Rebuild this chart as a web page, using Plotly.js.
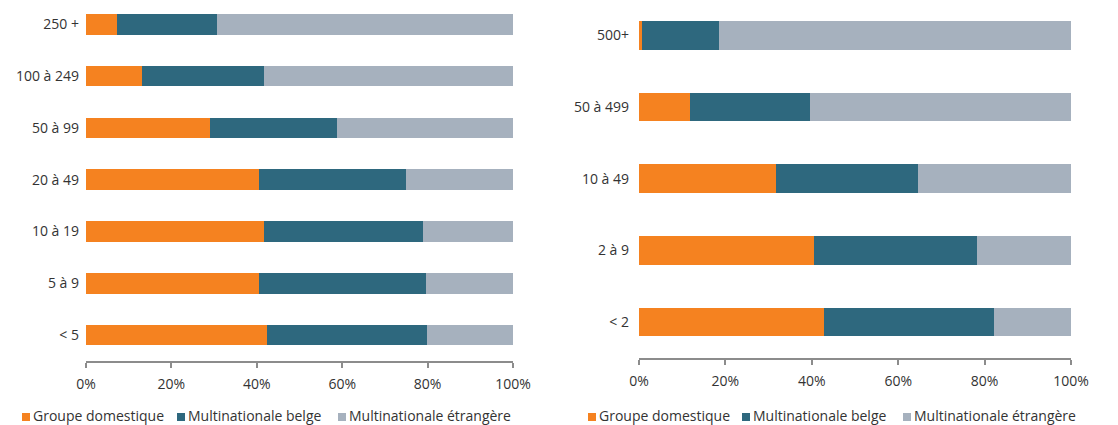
<!DOCTYPE html>
<html>
<head>
<meta charset="utf-8">
<script src="https://cdn.plot.ly/plotly-3.0.1.min.js"></script>
<style>html,body{margin:0;padding:0;background:#fff;}#chart{width:1118px;height:425px;}</style>
</head>
<body>
<div id="chart"></div>
<script>
// Left panel: size classes (top to bottom)
const leftCategories = ['250 +', '100 à 249', '50 à 99', '20 à 49', '10 à 19', '5 à 9', '< 5'];
const leftDomestique = [7.3, 13.2, 29.0, 40.5, 41.6, 40.6, 42.3];
const leftBelge      = [23.4, 28.4, 29.8, 34.4, 37.3, 39.0, 37.6];
const leftEtrangere  = [69.3, 58.4, 41.2, 25.1, 21.1, 20.4, 20.1];

// Right panel: size classes (top to bottom)
const rightCategories = ['500+', '50 à 499', '10 à 49', '2 à 9', '< 2'];
const rightDomestique = [0.6, 11.7, 31.8, 40.4, 42.9];
const rightBelge      = [17.9, 27.8, 32.7, 37.8, 39.2];
const rightEtrangere  = [81.5, 60.5, 35.5, 21.8, 17.9];

const seriesNames = ['Groupe domestique', 'Multinationale belge', 'Multinationale étrangère'];
const tickValues = [0, 20, 40, 60, 80, 100];

const colors = ['#F58220', '#2E687E', '#A6B1BE'];
const textColor = '#333333';
const font = {family: 'Open Sans, sans-serif', size: 14, color: textColor};

function mk(x, y, i, xa, ya) {
  return {
    type: 'bar', orientation: 'h', x: x, y: y, name: seriesNames[i],
    xaxis: xa, yaxis: ya, showlegend: false,
    marker: {color: colors[i], line: {width: 0}},
    hoverinfo: 'x+y+name'
  };
}

const data = [
  mk(leftDomestique, leftCategories, 0, 'x', 'y'),
  mk(leftBelge, leftCategories, 1, 'x', 'y'),
  mk(leftEtrangere, leftCategories, 2, 'x', 'y'),
  mk(rightDomestique, rightCategories, 0, 'x2', 'y2'),
  mk(rightBelge, rightCategories, 1, 'x2', 'y2'),
  mk(rightEtrangere, rightCategories, 2, 'x2', 'y2')
];

const xBase = {
  range: [0, 100], tickvals: tickValues, ticktext: tickValues.map(v => v + '%'),
  showgrid: false, zeroline: false, showline: true, linecolor: '#8c8c8c', linewidth: 2,
  ticks: 'outside', ticklen: 5, tickwidth: 2, tickcolor: '#8c8c8c',
  ticklabelstandoff: 4, tickfont: font, fixedrange: true
};
const yBase = {
  type: 'category', showgrid: false, zeroline: false, showline: false, ticks: '',
  tickfont: font, fixedrange: true
};

// Legend rows (one under each panel), built from the series names and colours
const W = 1118, H = 425;
const legendRows = [
  {swatchX: [22, 177, 338]},
  {swatchX: [588, 742, 903]}
];
const shapes = [];
const annotations = [];
legendRows.forEach(row => {
  row.swatchX.forEach((sx, i) => {
    shapes.push({
      type: 'rect', xref: 'paper', yref: 'paper',
      x0: sx / W, x1: (sx + 8) / W, y0: 1 - 421 / H, y1: 1 - 413 / H,
      fillcolor: colors[i], line: {width: 0}
    });
    annotations.push({
      xref: 'paper', yref: 'paper', x: (sx + 10) / W, y: 1 - 415 / H,
      xanchor: 'left', yanchor: 'middle', showarrow: false, borderpad: 0,
      text: seriesNames[i], font: font
    });
  });
});

const layout = {
  width: W, height: H,
  margin: {l: 0, r: 0, t: 0, b: 0},
  paper_bgcolor: '#ffffff', plot_bgcolor: '#ffffff',
  barmode: 'stack', bargap: 0.6,
  font: font,
  showlegend: false,
  xaxis: Object.assign({}, xBase, {domain: [86 / W, 513 / W], anchor: 'y'}),
  yaxis: Object.assign({}, yBase, {domain: [1 - 361 / H, 1], range: [6.5, -0.47],
    categoryorder: 'array', categoryarray: leftCategories, anchor: 'x', ticklabelstandoff: 6}),
  xaxis2: Object.assign({}, xBase, {domain: [639 / W, 1071 / W], anchor: 'y2'}),
  yaxis2: Object.assign({}, yBase, {domain: [1 - 358 / H, 1], range: [4.5, -0.49],
    categoryorder: 'array', categoryarray: rightCategories, anchor: 'x2', ticklabelstandoff: 9}),
  shapes: shapes,
  annotations: annotations
};

Plotly.newPlot('chart', data, layout, {displayModeBar: false, staticPlot: true});
</script>
</body>
</html>
